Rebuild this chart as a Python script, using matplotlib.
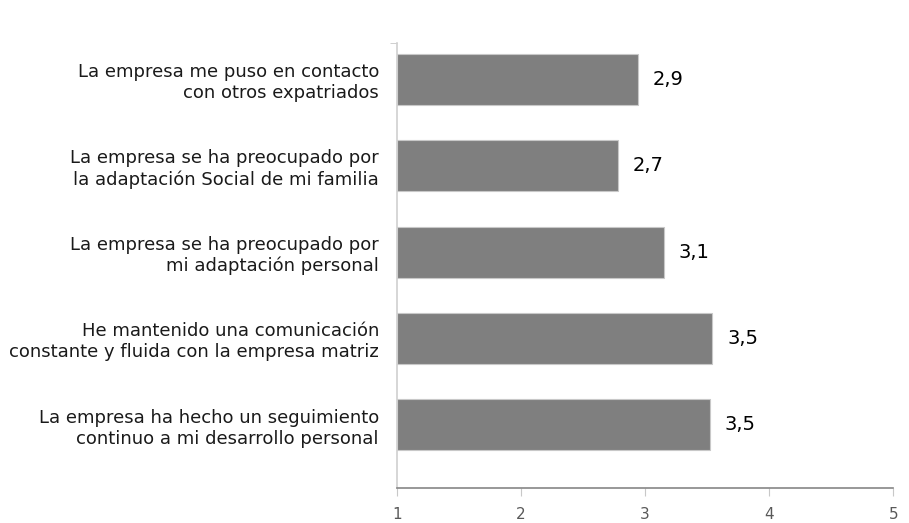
import numpy as np
import matplotlib.pyplot as plt

# Datos del gráfico (de arriba a abajo)
categorias = [
    "La empresa me puso en contacto\ncon otros expatriados",
    "La empresa se ha preocupado por\nla adaptación Social de mi familia",
    "La empresa se ha preocupado por\nmi adaptación personal",
    "He mantenido una comunicación\nconstante y fluida con la empresa matriz",
    "La empresa ha hecho un seguimiento\ncontinuo a mi desarrollo personal",
]
valores = [2.94, 2.78, 3.15, 3.54, 3.52]
etiquetas = ["2,9", "2,7", "3,1", "3,5", "3,5"]
ticks_x = [1, 2, 3, 4, 5]

fig = plt.figure(figsize=(9.09, 5.23), dpi=100)
ax = fig.add_axes([0.4367, 0.067, 0.546, 0.851])

y = np.arange(len(categorias))
ax.barh(y, np.array(valores) - 1, left=1, height=0.59,
        color='#7f7f7f', edgecolor='#c8c8c8', linewidth=0.8, zorder=2)

for yi, v, t in zip(y, valores, etiquetas):
    ax.text(v + 0.12, yi, t, va='center', ha='left', fontsize=14, color='black')

ax.set_xlim(1, 5)
ax.set_ylim(4.73, -0.42)
ax.set_xticks(ticks_x)
ax.set_xticklabels([str(t) for t in ticks_x], color='#595959', fontsize=11)
ax.set_yticks(y)
ax.set_yticklabels(categorias, fontsize=13, color='#1a1a1a', linespacing=1.2)
ax.tick_params(axis='y', length=0, pad=13)
ax.tick_params(axis='x', length=6, color='#c8c8c8', pad=8)
ax.set_yticks([-0.42], minor=True)
ax.tick_params(axis='y', which='minor', length=5, color='#c8c8c8')

for lbl in ax.get_yticklabels():
    lbl.set_horizontalalignment('right')
    lbl.set_multialignment('right')

ax.spines['top'].set_visible(False)
ax.spines['right'].set_visible(False)
ax.spines['left'].set_color('#d0d0d0')
ax.spines['bottom'].set_color('#868686')
ax.spines['left'].set_linewidth(1.2)
ax.spines['bottom'].set_linewidth(1.2)

fig.savefig('out.png', dpi=100)
